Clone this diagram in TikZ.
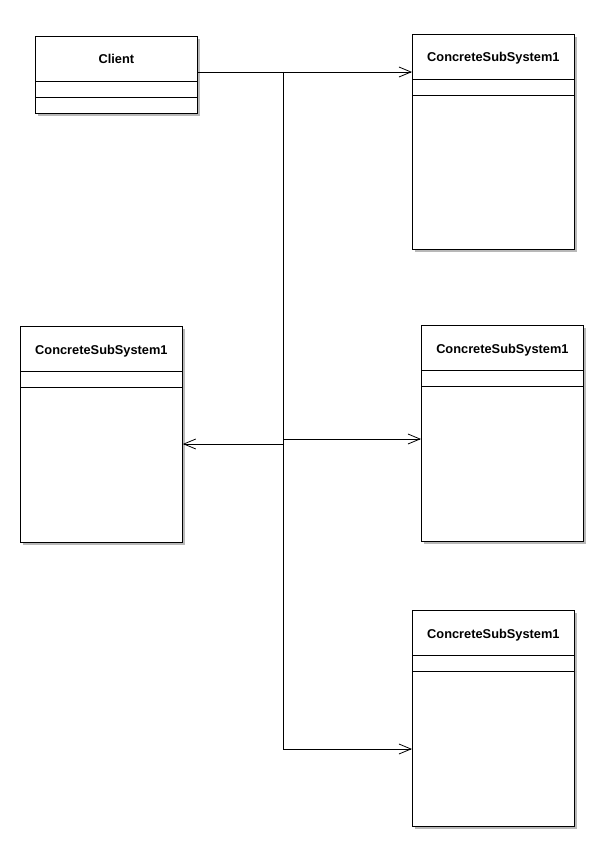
\documentclass[tikz,border=0pt]{standalone}
\usepackage{fontspec}
\setmainfont{Liberation Sans}
\usetikzlibrary{arrows.meta,shadows,calc}
\begin{document}
\begin{tikzpicture}[x=1pt,y=-1pt,
  cls/.style={draw=black, line width=0.8pt, fill=white, anchor=north west, inner sep=0pt,
    minimum width=162pt,
    drop shadow={shadow xshift=3pt, shadow yshift=-3pt, fill=black!28, opacity=1}},
  ttl/.style={font=\fontsize{12.8}{14}\selectfont\bfseries, anchor=base, inner sep=0pt},
  sep/.style={line width=0.8pt},
  wire/.style={line width=0.8pt},
  arr/.style={line width=0.8pt, -{Straight Barb[length=12pt,width=10pt,line width=0.8pt]}}]
\useasboundingbox (0,0) rectangle (614,843);

% classes
\node[cls, minimum height=77pt]  (client) at (35,36) {};
\node[cls, minimum height=215pt] (subA)   at (412,34) {};
\node[cls, minimum height=216pt] (subB)   at (20,326) {};
\node[cls, minimum height=216pt] (subC)   at (421,325) {};
\node[cls, minimum height=216pt] (subD)   at (412,610) {};

\foreach \b in {client,subA,subB,subC,subD}{
  \draw[sep] ($(\b.north west)+(0,45)$) -- ($(\b.north east)+(0,45)$);
  \draw[sep] ($(\b.north west)+(0,61)$) -- ($(\b.north east)+(0,61)$);
}

\node[ttl] (clientT) at ($(client.north)+(0,27.2)$) {Client};
\node[ttl] (subAT) at ($(subA.north)+(0,28)$) {ConcreteSubSystem1};
\node[ttl] (subBT) at ($(subB.north)+(0,28)$) {ConcreteSubSystem1};
\node[ttl] (subCT) at ($(subC.north)+(0,28)$) {ConcreteSubSystem1};
\node[ttl] (subDT) at ($(subD.north)+(0,28)$) {ConcreteSubSystem1};

% connectors
\coordinate (j1) at (283,72);
\coordinate (j2) at (283,444);
\coordinate (j3) at (283,439);
\coordinate (j4) at (283,749);

\draw[arr] (client.east |- j1) -- (subA.west |- j1);
\draw[wire] (j1) -- (j4);
\draw[arr] (j2) -- (subB.east |- j2);
\draw[arr] (j3) -- (subC.west |- j3);
\draw[arr] (j4) -- (subD.west |- j4);
\end{tikzpicture}
\end{document}
